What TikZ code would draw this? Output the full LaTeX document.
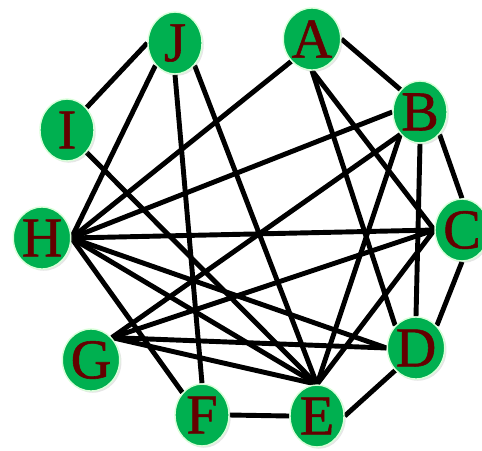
\documentclass[tikz,border=0pt]{standalone}
\usepackage{fontspec}
\setmainfont{Liberation Serif}
\newfontfamily\vertexfont{Liberation Serif}[FakeBold=1.0]
\usepackage{tikz}
\usetikzlibrary{shapes.geometric,shadows,backgrounds}
\definecolor{vgreen}{RGB}{0,176,80}
\definecolor{vred}{RGB}{100,0,0}

\begin{document}
\begin{tikzpicture}[
  x=0.02cm, y=-0.02cm,
  vertex/.style = {ellipse, fill=vgreen, draw=green!15!white, line width=0.8pt,
                   minimum width=1.08cm, minimum height=1.24cm, inner sep=0pt,
                   text=vred, font=\vertexfont\fontsize{32}{32}\selectfont,
                   drop shadow={shadow xshift=1pt, shadow yshift=-1pt, opacity=0.2}},
  edge/.style   = {line width=2.8pt, black},
]
\useasboundingbox (0,0) rectangle (482,450);
% vertices
\node[vertex] (A) at (312,39)  {A};
\node[vertex] (B) at (420,112) {B};
\node[vertex] (C) at (462,230) {C};
\node[vertex] (D) at (416,348) {D};
\node[vertex] (E) at (317,416) {E};
\node[vertex] (F) at (202,415) {F};
\node[vertex] (G) at (91,360)  {G};
\node[vertex] (H) at (42,238)  {H};
\node[vertex] (I) at (67,130)  {I};
\node[vertex] (J) at (175,43)  {J};
% edges, behind the vertices
\begin{pgfonlayer}{background}
\draw[edge] (A.east)        -- (B.north west);
\draw[edge] (A.south)       -- (C.west);
\draw[edge] (A.south)       -- (D.north west);
\draw[edge] (A.south west)  -- (H.east);
\draw[edge] (B.south east)  -- (C.north);
\draw[edge] (B.south)       -- (D.north);
\draw[edge] (B.south west)  -- (E.north);
\draw[edge] (B.south west)  -- (G.north east);
\draw[edge] (B.west)        -- (H.east);
\draw[edge] (C.south)       -- (D.north east);
\draw[edge] (C.west)        -- (E.north);
\draw[edge] (C.west)        -- (G.north east);
\draw[edge] (C.west)        -- (H.east);
\draw[edge] (D.south west)  -- (E.east);
\draw[edge] (D.west)        -- (G.north east);
\draw[edge] (D.west)        -- (H.east);
\draw[edge] (E.west)        -- (F.east);
\draw[edge] (E.north)       -- (G.north east);
\draw[edge] (E.north)       -- (H.east);
\draw[edge] (E.north)       -- (I.south east);
\draw[edge] (E.north)       -- (J.south east);
\draw[edge] (F.north west)  -- (H.east);
\draw[edge] (F.north)       -- (J.south);
\draw[edge] (H.east)        -- (J.south west);
\draw[edge] (I.north east)  -- (J.west);
\end{pgfonlayer}
\end{tikzpicture}
\end{document}
